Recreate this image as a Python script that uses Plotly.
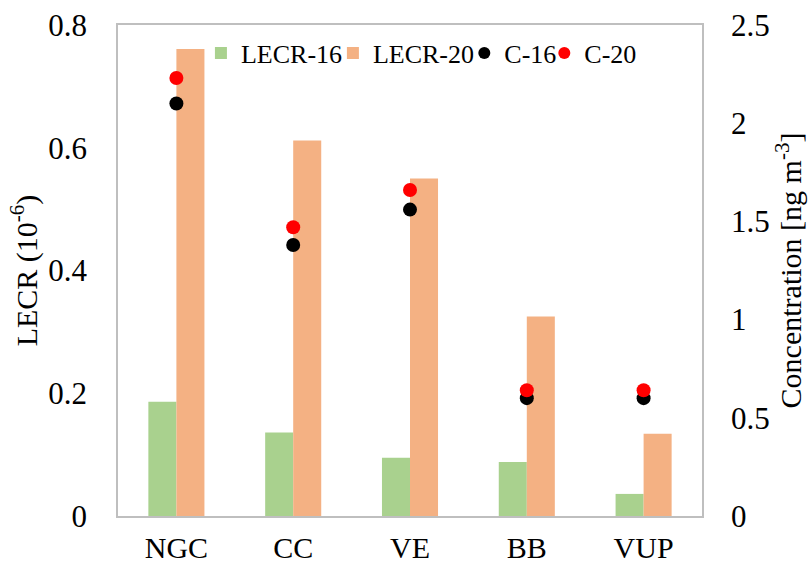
import plotly.graph_objects as go

sites = ["NGC", "CC", "VE", "BB", "VUP"]
lecr_16 = [0.186, 0.136, 0.095, 0.088, 0.036]
lecr_20 = [0.761, 0.612, 0.550, 0.325, 0.134]
conc_16 = [2.10, 1.38, 1.56, 0.60, 0.60]
conc_20 = [2.23, 1.47, 1.66, 0.64, 0.64]

FONT = "Liberation Serif"
fig = go.Figure()
fig.add_trace(go.Bar(x=sites, y=lecr_16, name="LECR-16", marker_color="#a9d18e",
                     marker_line_width=0, offsetgroup="a", legend="legend"))
fig.add_trace(go.Bar(x=sites, y=lecr_20, name="LECR-20", marker_color="#f4b183",
                     marker_line_width=0, offsetgroup="b", legend="legend2"))
fig.add_trace(go.Scatter(x=sites, y=conc_16, name="C-16", mode="markers", yaxis="y2",
                         marker=dict(color="black", size=14), legend="legend3"))
fig.add_trace(go.Scatter(x=sites, y=conc_20, name="C-20", mode="markers", yaxis="y2",
                         marker=dict(color="red", size=14), legend="legend4"))


def legend_at(x):
    return dict(orientation="h", x=x, xanchor="left", y=0.943, yanchor="middle",
                font=dict(size=26, family=FONT), bgcolor="rgba(0,0,0,0)",
                itemwidth=30, itemsizing="constant", borderwidth=0)


fig.update_layout(
    width=811, height=567,
    margin=dict(l=118, r=109, t=25, b=51, autoexpand=False),
    plot_bgcolor="white", paper_bgcolor="white",
    font=dict(family=FONT, size=32, color="black"),
    barmode="group", bargap=0.52, bargroupgap=0,
    showlegend=True,
    legend=legend_at(0.142),
    legend2=legend_at(0.368),
    legend3=legend_at(0.593),
    legend4=legend_at(0.730),
    xaxis=dict(showline=True, linecolor="#bfbfbf", linewidth=1.5, mirror=True,
               ticks="", tickfont=dict(size=30), ticklabelstandoff=4, automargin=False),
    yaxis=dict(range=[0, 0.8], dtick=0.2, showgrid=False, zeroline=False,
               showline=True, linecolor="#bfbfbf", linewidth=1.5, mirror=True,
               ticks="", tickfont=dict(size=31), tickformat="~g", ticklabelstandoff=23,
               automargin=False,
               title=dict(text="LECR (10<sup>-6</sup>)", font=dict(size=30), standoff=2)),
    yaxis2=dict(range=[0, 2.5], dtick=0.5, overlaying="y", side="right",
                showgrid=False, zeroline=False, showline=False, ticks="",
                tickfont=dict(size=31), tickformat="~g", ticklabelstandoff=28,
                automargin=False,
                title=dict(text="Concentration [ng m<sup>-3</sup>]", font=dict(size=30),
                           standoff=4)),
)

fig.write_html("out.html")
